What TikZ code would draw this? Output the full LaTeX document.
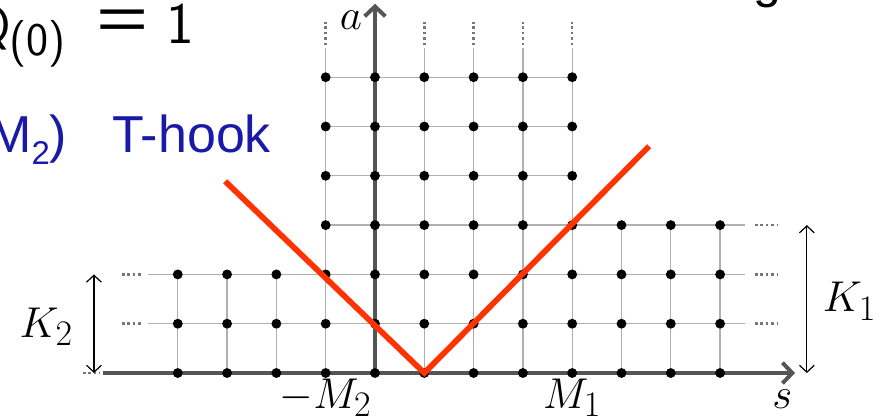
\documentclass[tikz,border=0pt]{standalone}
\usepackage{fontspec}
\usepackage{graphicx}
\usepackage{xcolor}
\usepackage{tikz}
\usetikzlibrary{arrows.meta,calc,positioning}
\newfontfamily\arialfont{Liberation Sans}
\definecolor{gridgray}{HTML}{B0B0B0}
\definecolor{moregray}{HTML}{777777}
\definecolor{axisgray}{HTML}{555555}
\definecolor{vred}{HTML}{FF3300}
\definecolor{hookblue}{HTML}{1A1AA8}

\begin{document}
\begin{tikzpicture}[
  gridline/.style={draw=gridgray,line width=.75pt},
  more/.style={draw=moregray,line width=1.5pt,dash pattern=on 1.5pt off 1.6pt},
  axis/.style={draw=axisgray,line width=2.3pt,-{Straight Barb[length=2mm,width=4.2mm]}},
  span/.style={draw=black,line width=.7pt,
    {Straight Barb[length=1.4mm,width=3mm]}-{Straight Barb[length=1.4mm,width=3mm]}},
  vline/.style={draw=vred,line width=3.3pt},
  pt/.style={fill=black},
  mathlbl/.style={inner sep=0pt,font=\fontsize{24.88}{30}\selectfont},
  slide/.style={inner sep=0pt,font=\sffamily\fontsize{30.5}{36}\selectfont},
  hook/.style={inner sep=0pt,text=hookblue,font=\arialfont\fontsize{30}{36}\selectfont}
]
\useasboundingbox (-7.606,-0.953) rectangle (10.223,7.566);
% grid
\foreach \j in {1,2} \draw[gridline] (-4.6,\j) -- (7.5,\j);
\draw[gridline] (-1,3) -- (7.5,3);
\foreach \j in {4,5,6} \draw[gridline] (-1,\j) -- (4,\j);
\foreach \i in {-4,-3,-2} \draw[gridline] (\i,0) -- (\i,2);
\foreach \i in {-1,1,2,3,4} \draw[gridline] (\i,0) -- (\i,6.59);
\foreach \i in {5,6,7} \draw[gridline] (\i,0) -- (\i,3);
% dots where the grid goes on
\foreach \j in {1,2} \draw[more] (-5.13,\j) -- (-4.7,\j);
\foreach \j in {1,2,3} \draw[more] (7.71,\j) -- (8.15,\j);
\foreach \i in {-1,1,2,3,4} \draw[more] (\i,6.65) -- (\i,7.12);
\draw[more] (-5.92,0) -- (-5.58,0);
% axes
\coordinate (O) at (0,0);
\coordinate (sleft) at (-5.52,0);
\coordinate (sright) at (8.52,0);
\coordinate (atop) at (0,7.49);
\draw[axis] (sleft) -- (sright);
\draw[axis] (O) -- (atop);
% lattice points
\foreach \i in {-4,...,7} \foreach \j in {0,1,2} \fill[pt] (\i,\j) circle (0.1);
\foreach \i in {-1,...,7} \fill[pt] (\i,3) circle (0.1);
\foreach \i in {-1,...,4} \foreach \j in {4,5,6} \fill[pt] (\i,\j) circle (0.1);
% the V
\coordinate (vl) at (-3.04,3.89);
\coordinate (vtip) at (1,0);
\coordinate (vr) at (5.56,4.6);
\draw[vline] (vl) -- (vtip) -- (vr);
% heights
\coordinate (k1bot) at (8.76,0);
\coordinate (k1top) at (8.76,3);
\coordinate (k2bot) at (-5.7,0);
\coordinate (k2top) at (-5.7,2);
\draw[span] (k2bot) -- (k2top);
\draw[span] (k1bot) -- (k1top);
% labels
\node[mathlbl,anchor=base] (alab) at (-0.49,6.96) {$a$};
\node[mathlbl,anchor=base] (slab) at (8.26,-0.71) {$s$};
\node[mathlbl,anchor=base] (m2lab) at (-1,-0.72) {$-M_2$};
\node[mathlbl,anchor=base] (m1lab) at (4,-0.72) {$M_1$};
\node[mathlbl,anchor=base west] (k1lab) at (9.08,1.24) {$K_1$};
\node[mathlbl,anchor=base east] (k2lab) at (-6.12,0.73) {$K_2$};
% slide text
\node[slide,anchor=base east] (qsym) at (-7.38,6.69) {Q};
\node[slide,anchor=base west,font=\sffamily\fontsize{27}{32}\selectfont] (qsub) at (-7.42,6.43) {(0)};
\node[slide,anchor=base west,font=\arialfont\fontsize{29}{34}\selectfont] (qeq) at (-5.65,6.76) {\scalebox{1.78}[1.2]{=}};
\node[slide,anchor=base west,font=\sffamily\fontsize{34}{40}\selectfont] (qone) at (-4.24,6.69) {1};
\node[slide,anchor=base west,font=\arialfont\fontsize{29}{34}\selectfont] (gcut) at (7.667,7.61) {g};
\node[hook,anchor=base east] (mlab) at (-6.235,4.48) {M\raisebox{-0.23em}{\fontsize{19}{22}\selectfont 2})};
\node[hook,anchor=base west] (thook) at (-5.34,4.48) {T-hook};
\end{tikzpicture}
\end{document}
